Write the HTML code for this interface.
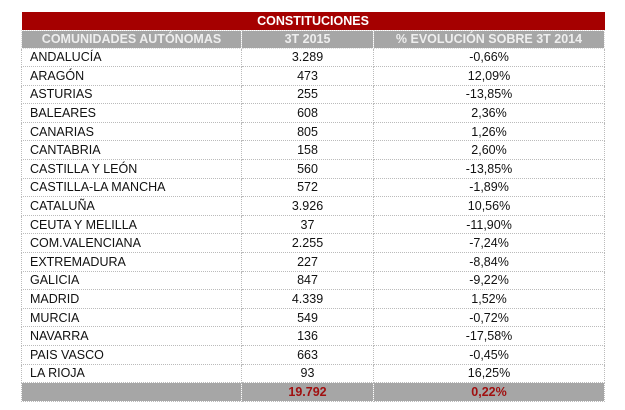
<html><head><style>
body{margin:0;background:#fff;width:625px;height:410px;overflow:hidden;font-family:"Liberation Sans",sans-serif;}
table{position:absolute;left:21px;top:12px;border-collapse:collapse;width:583px;table-layout:fixed;}
td{height:18.6px;padding:0;font-size:12.5px;color:#111;border:1px dotted #bbb;white-space:nowrap;overflow:hidden;}
td.c{text-align:center}
td.l{padding-left:8px}
tr.t td{background:#a50000;color:#fff;font-weight:bold;text-align:center;height:18px;border:none}
tr.h td{background:#a6a6a6;color:#eee;font-weight:bold;text-align:center;height:18px;border-color:#ddd}
tr.s td{background:#a6a6a6;color:#a01010;font-weight:bold;text-align:center}
</style></head><body>
<table>
<colgroup><col style="width:220px"><col style="width:132px"><col style="width:231px"></colgroup>
<tr class="t"><td colspan="3">CONSTITUCIONES</td></tr>
<tr class="h"><td>COMUNIDADES AUTÓNOMAS</td><td>3T 2015</td><td>% EVOLUCIÓN SOBRE 3T 2014</td></tr>
<tr><td class="l">ANDALUCÍA</td><td class="c">3.289</td><td class="c">-0,66%</td></tr>
<tr><td class="l">ARAGÓN</td><td class="c">473</td><td class="c">12,09%</td></tr>
<tr><td class="l">ASTURIAS</td><td class="c">255</td><td class="c">-13,85%</td></tr>
<tr><td class="l">BALEARES</td><td class="c">608</td><td class="c">2,36%</td></tr>
<tr><td class="l">CANARIAS</td><td class="c">805</td><td class="c">1,26%</td></tr>
<tr><td class="l">CANTABRIA</td><td class="c">158</td><td class="c">2,60%</td></tr>
<tr><td class="l">CASTILLA Y LEÓN</td><td class="c">560</td><td class="c">-13,85%</td></tr>
<tr><td class="l">CASTILLA-LA MANCHA</td><td class="c">572</td><td class="c">-1,89%</td></tr>
<tr><td class="l">CATALUÑA</td><td class="c">3.926</td><td class="c">10,56%</td></tr>
<tr><td class="l">CEUTA Y MELILLA</td><td class="c">37</td><td class="c">-11,90%</td></tr>
<tr><td class="l">COM.VALENCIANA</td><td class="c">2.255</td><td class="c">-7,24%</td></tr>
<tr><td class="l">EXTREMADURA</td><td class="c">227</td><td class="c">-8,84%</td></tr>
<tr><td class="l">GALICIA</td><td class="c">847</td><td class="c">-9,22%</td></tr>
<tr><td class="l">MADRID</td><td class="c">4.339</td><td class="c">1,52%</td></tr>
<tr><td class="l">MURCIA</td><td class="c">549</td><td class="c">-0,72%</td></tr>
<tr><td class="l">NAVARRA</td><td class="c">136</td><td class="c">-17,58%</td></tr>
<tr><td class="l">PAIS VASCO</td><td class="c">663</td><td class="c">-0,45%</td></tr>
<tr><td class="l">LA RIOJA</td><td class="c">93</td><td class="c">16,25%</td></tr>
<tr class="s"><td></td><td>19.792</td><td>0,22%</td></tr>
</table>
</body></html>
